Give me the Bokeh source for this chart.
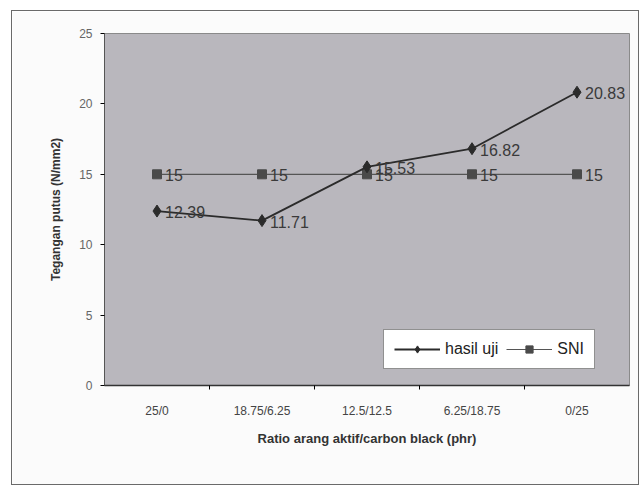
from bokeh.plotting import figure
from bokeh.models import (ColumnDataSource, FixedTicker, Range1d, Legend, LegendItem, LabelSet)
from bokeh.core.properties import value
from bokeh.embed import file_html
from bokeh.resources import INLINE

categories = ["25/0", "18.75/6.25", "12.5/12.5", "6.25/18.75", "0/25"]
hasil_uji = [12.39, 11.71, 15.53, 16.82, 20.83]
sni = [15, 15, 15, 15, 15]
y_ticks = [0, 5, 10, 15, 20, 25]

FONT = "Liberation Sans"

xs = [i + 0.5 for i in range(len(categories))]
src_h = ColumnDataSource(dict(x=xs, y=hasil_uji, t=[f"{v:g}" for v in hasil_uji]))
src_s = ColumnDataSource(dict(x=xs, y=sni, t=[f"{v:g}" for v in sni]))

p = figure(width=628, height=475, output_backend="svg", toolbar_location=None,
           x_range=Range1d(0, len(categories)), y_range=Range1d(0, 25),
           min_border_left=92, min_border_right=11, min_border_top=22, min_border_bottom=101)
p.margin = (10, 0, 0, 11)
p.styles = {"border": "1px solid #6a6a6a", "box-sizing": "border-box"}

p.background_fill_color = "#b9b7bd"
p.border_fill_color = "#fbfbfb"
p.outline_line_color = "#8a8a8a"
p.grid.visible = False

# x axis
p.xaxis.ticker = FixedTicker(ticks=xs, minor_ticks=list(range(1, len(categories))))
p.xaxis.major_label_overrides = {x: c for x, c in zip(xs, categories)}
p.xaxis.major_tick_out = 0
p.xaxis.major_tick_in = 0
p.xaxis.minor_tick_out = 4
p.xaxis.minor_tick_in = 0
p.xaxis.axis_line_color = "#333333"
p.xaxis.axis_line_width = 1.5
p.xaxis.major_label_text_font = FONT
p.xaxis.major_label_text_font_size = "12px"
p.xaxis.major_label_text_color = "#444444"
p.xaxis.major_label_standoff = 14
p.xaxis.axis_label = "Ratio arang aktif/carbon black (phr)"
p.xaxis.axis_label_text_font = FONT
p.xaxis.axis_label_text_font_style = "bold"
p.xaxis.axis_label_text_font_size = "13px"
p.xaxis.axis_label_text_color = "#333333"
p.xaxis.axis_label_standoff = 10

# y axis
p.yaxis.ticker = FixedTicker(ticks=y_ticks)
p.yaxis.minor_tick_line_color = None
p.yaxis.major_tick_out = 4
p.yaxis.major_tick_in = 0
p.yaxis.axis_line_color = "#555555"
p.yaxis.major_label_text_font = FONT
p.yaxis.major_label_text_font_size = "12px"
p.yaxis.major_label_text_color = "#666666"
p.yaxis.major_label_standoff = 8
p.yaxis.axis_label = "Tegangan putus (N/mm2)"
p.yaxis.axis_label_text_font = FONT
p.yaxis.axis_label_text_font_style = "bold"
p.yaxis.axis_label_text_font_size = "12px"
p.yaxis.axis_label_text_color = "#333333"
p.yaxis.axis_label_standoff = 13

# series
l_s = p.line("x", "y", source=src_s, line_color="#555555", line_width=1.2)
m_s = p.scatter("x", "y", source=src_s, marker="square", size=9,
                fill_color="#4a4a4a", line_color="#4a4a4a")
l_h = p.line("x", "y", source=src_h, line_color="#2b2b2b", line_width=1.8)
m_h = p.scatter("x", "y", source=src_h, marker="diamond", size=12,
                fill_color="#2b2b2b", line_color="#2b2b2b")

for src in (src_h, src_s):
    p.add_layout(LabelSet(x="x", y="y", text="t", source=src, x_offset=8, y_offset=-1,
                          text_baseline="middle", text_font=value(FONT),
                          text_font_size="16px", text_color="#3a3a3a"))

legend = Legend(items=[LegendItem(label="hasil uji", renderers=[l_h, m_h]),
                       LegendItem(label="SNI", renderers=[l_s, m_s])],
                orientation="horizontal", location=(279, 16),
                background_fill_color="white", background_fill_alpha=1,
                border_line_color="#222222", border_line_width=1.2,
                label_text_font=FONT, label_text_font_size="16px",
                label_text_color="#222222",
                glyph_width=46, glyph_height=18, spacing=8, padding=10, margin=0,
                label_standoff=5)
p.add_layout(legend)

open("out.html", "w").write(file_html(p, INLINE))
